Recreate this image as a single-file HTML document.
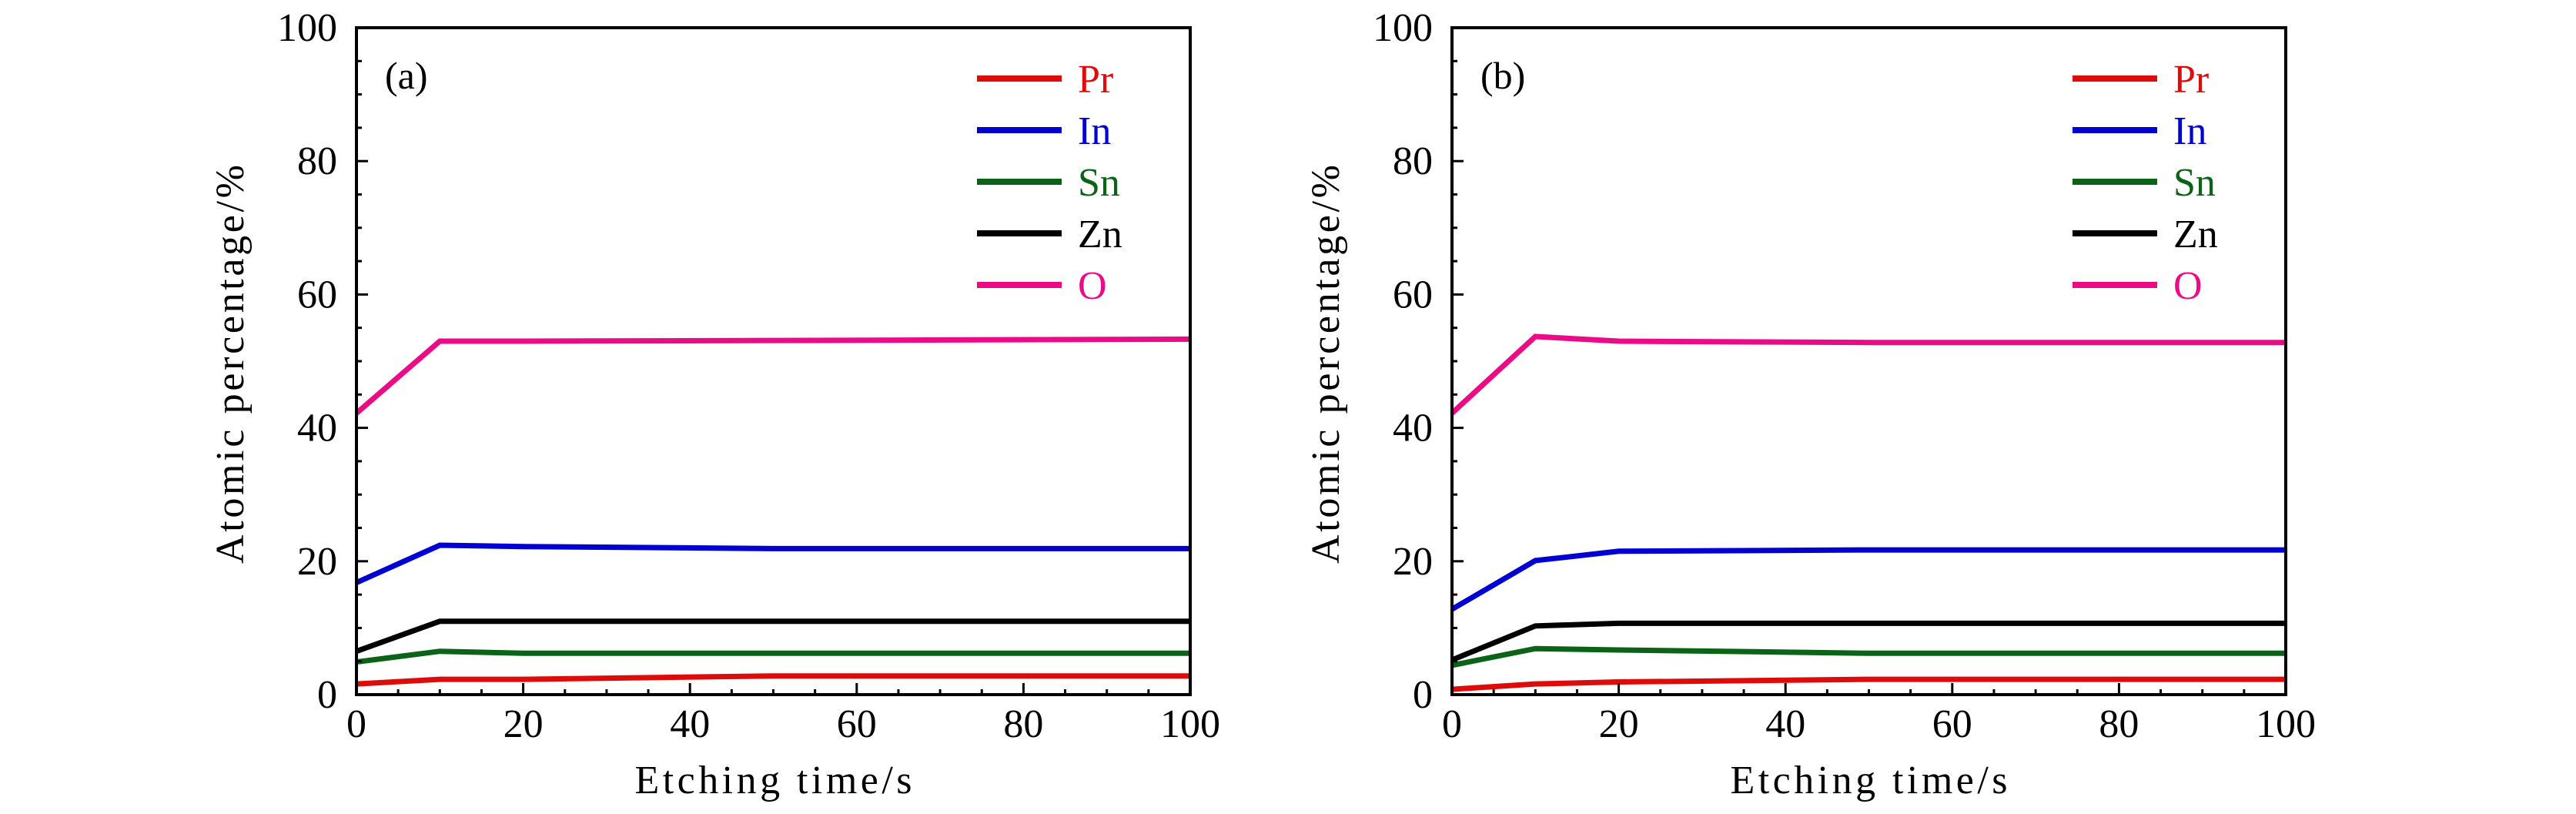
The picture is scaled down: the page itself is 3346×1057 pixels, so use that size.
<!DOCTYPE html>
<html><head><meta charset="utf-8"><style>
html,body{margin:0;padding:0;background:#fff;}
svg{display:block;}
svg text{font-family:"Liberation Serif","DejaVu Serif",serif;}
</style></head><body>
<svg id="fig" width="3346" height="1057" viewBox="0 0 3346 1057" xmlns="http://www.w3.org/2000/svg"></svg>
<script>
const xValues = [0, 10, 20, 50, 100];
const seriesNames = ["Pr", "In", "Sn", "Zn", "O"];
const seriesColors = ["#de0b0b", "#0000d2", "#0b6318", "#000000", "#ec0b86"];
const prA = [1.6, 2.3, 2.3, 2.8, 2.8];
const inA = [16.8, 22.4, 22.2, 21.9, 21.9];
const snA = [4.9, 6.5, 6.2, 6.2, 6.2];
const znA = [6.5, 11.0, 11.0, 11.0, 11.0];
const oA  = [42.2, 53.0, 53.0, 53.1, 53.3];
const prB = [0.8, 1.6, 1.9, 2.3, 2.3];
const inB = [12.8, 20.1, 21.5, 21.7, 21.7];
const snB = [4.4, 6.9, 6.7, 6.2, 6.2];
const znB = [5.2, 10.3, 10.7, 10.7, 10.7];
const oB  = [42.2, 53.7, 53.0, 52.8, 52.8];
const xTicks = [0, 20, 40, 60, 80, 100];
const yTicks = [0, 20, 40, 60, 80, 100];
const panelLabels = ["(a)", "(b)"];

const NS = "http://www.w3.org/2000/svg";
const svg = document.getElementById("fig");
const FF = '"Liberation Serif", "DejaVu Serif", serif';
function mk(tag, attrs, parent) {
  const e = document.createElementNS(NS, tag);
  for (const k in attrs) e.setAttribute(k, attrs[k]);
  if (tag === "text") e.setAttribute("font-family", FF);
  (parent || svg).appendChild(e);
  return e;
}

function drawPanel(left, label, data, key) {
  const top = 36, W = 1083, H = 866, bottom = top + H;
  const g = mk("g", {});
  
  
  const sx = v => left + v / 100 * W;
  const sy = v => bottom - v / 100 * H;

  data.forEach((vals, i) => {
    const pts = xValues.map((x, j) => sx(x) + "," + sy(vals[j])).join(" ");
    const pl = mk("polyline", {points: pts, fill: "none", stroke: seriesColors[i], "stroke-width": 7, "stroke-linejoin": "miter"}, g);
    
    
  });

  for (let v = 0; v <= 100; v += 5) {
    const major = v % 20 === 0;
    const len = major ? 15 : 7;
    const tx = mk("line", {x1: sx(v), x2: sx(v), y1: bottom, y2: bottom - len, stroke: "#000", "stroke-width": 3}, g);
    
    
    const ty = mk("line", {x1: left, x2: left + len, y1: sy(v), y2: sy(v), stroke: "#000", "stroke-width": 3}, g);
    
    
  }
  xTicks.forEach(v => {
    const t = mk("text", {x: sx(v), y: 957, "font-size": 52, "text-anchor": "middle", fill: "#000"}, g);
    t.textContent = v;
    
    
  });
  yTicks.forEach(v => {
    const t = mk("text", {x: left - 25, y: sy(v) + 17, "font-size": 52, "text-anchor": "end", fill: "#000"}, g);
    t.textContent = v;
    
    
  });

  const fr = mk("rect", {x: left, y: top, width: W, height: H, fill: "none", stroke: "#000", "stroke-width": 4}, g);
  
  

  const pl = mk("text", {x: left + 37, y: 115, "font-size": 50, fill: "#000"}, g);
  pl.textContent = label;
  
  

  seriesNames.forEach((n, i) => {
    const y = 102 + i * 67;
    const ll = mk("line", {x1: left + 806, x2: left + 916, y1: y, y2: y, stroke: seriesColors[i], "stroke-width": 8}, g);
    
    
    const lt = mk("text", {x: left + 937, y: y + 18, "font-size": 52, fill: seriesColors[i]}, g);
    lt.textContent = n;
    
    
  });

  const xt = mk("text", {x: left + W / 2, y: 1030, "font-size": 52, "text-anchor": "middle", fill: "#000", textLength: 360, lengthAdjust: "spacing"}, g);
  xt.textContent = "Etching time/s";
  
  
  const cx = left - 147, cy = 473;
  const yt = mk("text", {x: cx, y: cy, "font-size": 52, "text-anchor": "middle", fill: "#000",
    transform: "rotate(-90 " + cx + " " + cy + ")", textLength: 518, lengthAdjust: "spacing"}, g);
  yt.textContent = "Atomic percentage/%";
  
  
}

drawPanel(463, panelLabels[0], [prA, inA, snA, znA, oA], "a");
drawPanel(1886, panelLabels[1], [prB, inB, snB, znB, oB], "b");
</script>
</body></html>
